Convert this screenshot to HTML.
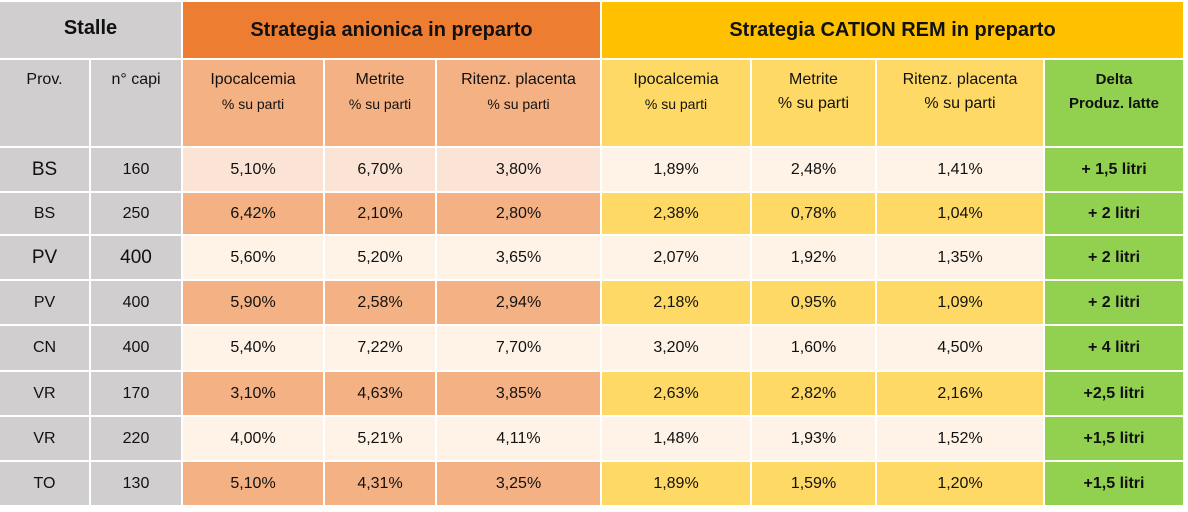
<!DOCTYPE html>
<html><head><meta charset="utf-8"><style>
body{margin:0;background:#fff;width:1188px;height:512px;overflow:hidden;font-family:"Liberation Sans",sans-serif;color:#111}
.g{position:absolute;left:0;top:0;display:grid;grid-template-columns:89px 90px 140px 110px 163px 148px 123px 166px 138px;grid-template-rows:56px 86px 43px 41px 43px 43px 44px 43px 43px 43px;column-gap:2px;row-gap:2px;padding:2px 0 0 0}
.g>div{display:flex;align-items:center;justify-content:center;text-align:center;font-size:16px}
.h1{font-weight:bold;font-size:20px!important}
.g>div.sh{display:block;padding-top:8px;font-size:16px;line-height:24px;box-sizing:border-box}
.sh small{font-size:14px}
.gr{background:#D0CECE}.or{background:#ED7D31}.ye{background:#FFC000}
.a{background:#F4B183}.c{background:#FFD966}.al{background:#FBE4D5}.l{background:#FEF3E6}.gn{background:#92D050;font-weight:bold}
.big{font-size:19px!important}
</style></head><body>
<div class="g">
<div class="gr h1" style="grid-column:1/3;padding-bottom:4px;box-sizing:border-box">Stalle</div>
<div class="or h1" style="grid-column:3/6">Strategia anionica in preparto</div>
<div class="ye h1" style="grid-column:6/10">Strategia CATION REM in preparto</div>
<div class="gr sh">Prov.</div><div class="gr sh">n° capi</div>
<div class="a sh">Ipocalcemia<br><small>% su parti</small></div>
<div class="a sh">Metrite<br><small>% su parti</small></div>
<div class="a sh">Ritenz. placenta<br><small>% su parti</small></div>
<div class="c sh">Ipocalcemia<br><small>% su parti</small></div>
<div class="c sh">Metrite<br>% su parti</div>
<div class="c sh">Ritenz. placenta<br>% su parti</div>
<div class="gn sh" style="font-size:15px">Delta<br>Produz. latte</div>

<div class="gr big">BS</div><div class="gr">160</div><div class="al">5,10%</div><div class="al">6,70%</div><div class="al">3,80%</div><div class="l">1,89%</div><div class="l">2,48%</div><div class="l">1,41%</div><div class="gn">+ 1,5 litri</div>
<div class="gr">BS</div><div class="gr">250</div><div class="a">6,42%</div><div class="a">2,10%</div><div class="a">2,80%</div><div class="c">2,38%</div><div class="c">0,78%</div><div class="c">1,04%</div><div class="gn">+ 2 litri</div>
<div class="gr big">PV</div><div class="gr big">400</div><div class="l">5,60%</div><div class="l">5,20%</div><div class="l">3,65%</div><div class="l">2,07%</div><div class="l">1,92%</div><div class="l">1,35%</div><div class="gn">+ 2 litri</div>
<div class="gr">PV</div><div class="gr">400</div><div class="a">5,90%</div><div class="a">2,58%</div><div class="a">2,94%</div><div class="c">2,18%</div><div class="c">0,95%</div><div class="c">1,09%</div><div class="gn">+ 2 litri</div>
<div class="gr">CN</div><div class="gr">400</div><div class="l">5,40%</div><div class="l">7,22%</div><div class="l">7,70%</div><div class="l">3,20%</div><div class="l">1,60%</div><div class="l">4,50%</div><div class="gn">+ 4 litri</div>
<div class="gr">VR</div><div class="gr">170</div><div class="a">3,10%</div><div class="a">4,63%</div><div class="a">3,85%</div><div class="c">2,63%</div><div class="c">2,82%</div><div class="c">2,16%</div><div class="gn">+2,5 litri</div>
<div class="gr">VR</div><div class="gr">220</div><div class="l">4,00%</div><div class="l">5,21%</div><div class="l">4,11%</div><div class="l">1,48%</div><div class="l">1,93%</div><div class="l">1,52%</div><div class="gn">+1,5 litri</div>
<div class="gr">TO</div><div class="gr">130</div><div class="a">5,10%</div><div class="a">4,31%</div><div class="a">3,25%</div><div class="c">1,89%</div><div class="c">1,59%</div><div class="c">1,20%</div><div class="gn">+1,5 litri</div>
</div>
</body></html>
